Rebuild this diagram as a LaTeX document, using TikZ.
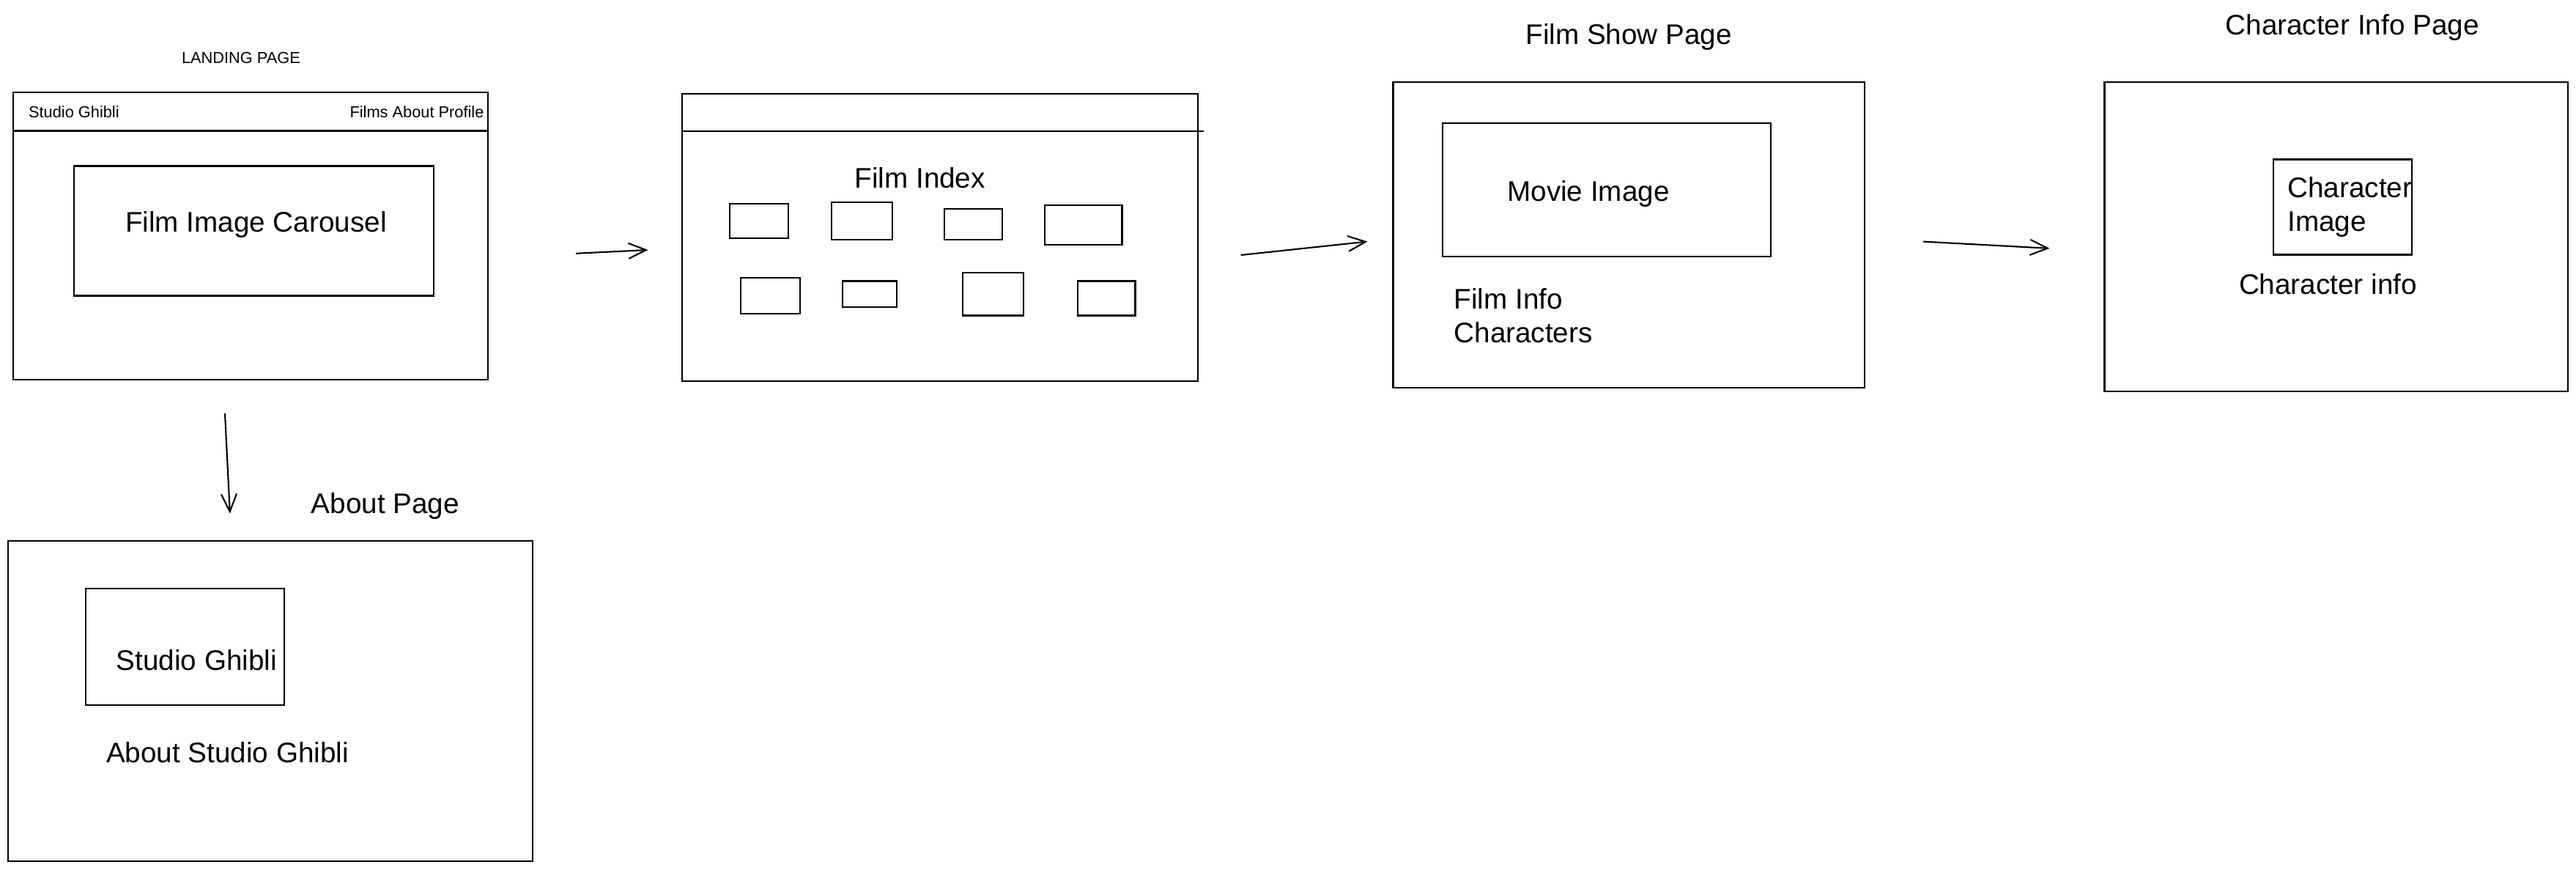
\documentclass[tikz,border=0pt]{standalone}
\usepackage{fontspec}
\setmainfont{Liberation Sans}
\usetikzlibrary{arrows.meta,positioning}

\begin{document}
\begin{tikzpicture}[font=\fontsize{11}{13}\selectfont, >={Straight Barb[length=2.4mm,width=2.1mm]},
  line width=0.6pt, node distance=3mm,
  scr/.style={draw, inner sep=0pt},
  img/.style={draw, inner sep=2pt, align=center},
  thumb/.style={draw, inner sep=0pt},
  ttl/.style={inner sep=2pt},
  lab/.style={inner sep=1pt},
  nav/.style={font=\fontsize{6.2}{7}\selectfont, inner sep=0pt},
  flow/.style={->}]
\useasboundingbox (0,0) rectangle (35.16,-11.87);

% landing page
\node[scr, minimum width=6.480cm, minimum height=3.924cm] (land) at (3.420,-3.218) {};
\node[img, minimum width=4.911cm, minimum height=1.771cm,
  label={[lab, xshift=0.3mm, yshift=0.8mm]center:Film Image Carousel}] (carousel) at (3.464,-3.150) {};
\node[nav, anchor=west] (brand) at (0.381,-1.525) {Studio Ghibli};
\node[nav, anchor=east] (menu) at (6.615,-1.525) {Films About Profile};
\draw ([yshift=-5.4mm]land.north west) -- ([yshift=-5.4mm]land.north east);
\node[ttl, font=\fontsize{6.2}{7}\selectfont, above=3mm of land, xshift=-1.3mm] (landttl) {LANDING PAGE};

% about page
\node[scr, minimum width=7.153cm, minimum height=4.372cm] (about) at (3.689,-9.563) {};
\node[img, minimum width=2.713cm, minimum height=1.592cm,
  label={[lab, xshift=1.6mm, yshift=-1.8mm]center:Studio Ghibli}] (logo) at (2.523,-8.823) {};
\node[lab] (abouttxt) at (3.106,-10.270) {About Studio Ghibli};
\node[ttl, above=2mm of about, xshift=15.7mm] (aboutttl) {About Page};

% film index
\node[scr, minimum width=7.041cm, minimum height=3.924cm] (idx) at (12.826,-3.240) {};
\draw ([yshift=-5.2mm]idx.north west) -- ([xshift=0.7mm,yshift=-5.2mm]idx.north east);
\node[lab] (idxttl) at (12.557,-2.422) {Film Index};
\foreach \n/\x/\y/\w/\h in {1/10.359/3.016/0.807/0.471, 2/11.761/3.016/0.830/0.516,
    3/13.286/3.061/0.785/0.426, 4/14.788/3.072/1.054/0.538,
    5/10.516/4.036/0.807/0.493, 6/11.873/4.014/0.740/0.359,
    7/13.555/4.014/0.830/0.583, 8/15.102/4.070/0.785/0.471}
  \node[thumb, minimum width=\w cm, minimum height=\h cm] (film\n) at (\x,-\y) {};

% film show page
\node[scr, minimum width=6.435cm, minimum height=4.171cm] (show) at (22.232,-3.206) {};
\node[img, minimum width=4.485cm, minimum height=1.816cm,
  label={[lab, xshift=-2.5mm, yshift=-0.6mm]center:Movie Image}] (movie) at (21.930,-2.590) {};
\node[lab, align=left, anchor=west] (info) at (19.80,-4.305) {Film Info\\Characters};
\node[ttl, above=3.4mm of show] (showttl) {Film Show Page};

% character info page
\node[scr, minimum width=6.323cm, minimum height=4.216cm] (char) at (31.886,-3.229) {};
\node[img, minimum width=1.884cm, minimum height=1.301cm, text width=1.5cm, inner xsep=1.9mm, align=left] (face) at (31.975,-2.825) {Character\\Image};
\node[lab] (charinfo) at (31.774,-3.879) {Character info};
\node[ttl, above=4.7mm of char, xshift=2.2mm] (charttl) {Character Info Page};

\draw[flow] ([xshift=-3.5mm,yshift=-4.5mm]land.south) -- ([xshift=-5.5mm,yshift=3.6mm]about.north);
\draw[flow] ([xshift=11.9mm,yshift=-2.4mm]land.east) -- ([xshift=-4.5mm,yshift=-1.7mm]idx.west);
\draw[flow] ([xshift=5.8mm,yshift=-2.4mm]idx.east) -- ([xshift=-3.4mm,yshift=-0.9mm]show.west);
\draw[flow] ([xshift=7.9mm,yshift=-0.9mm]show.east) -- ([xshift=-7.4mm,yshift=-1.6mm]char.west);
\end{tikzpicture}
\end{document}
